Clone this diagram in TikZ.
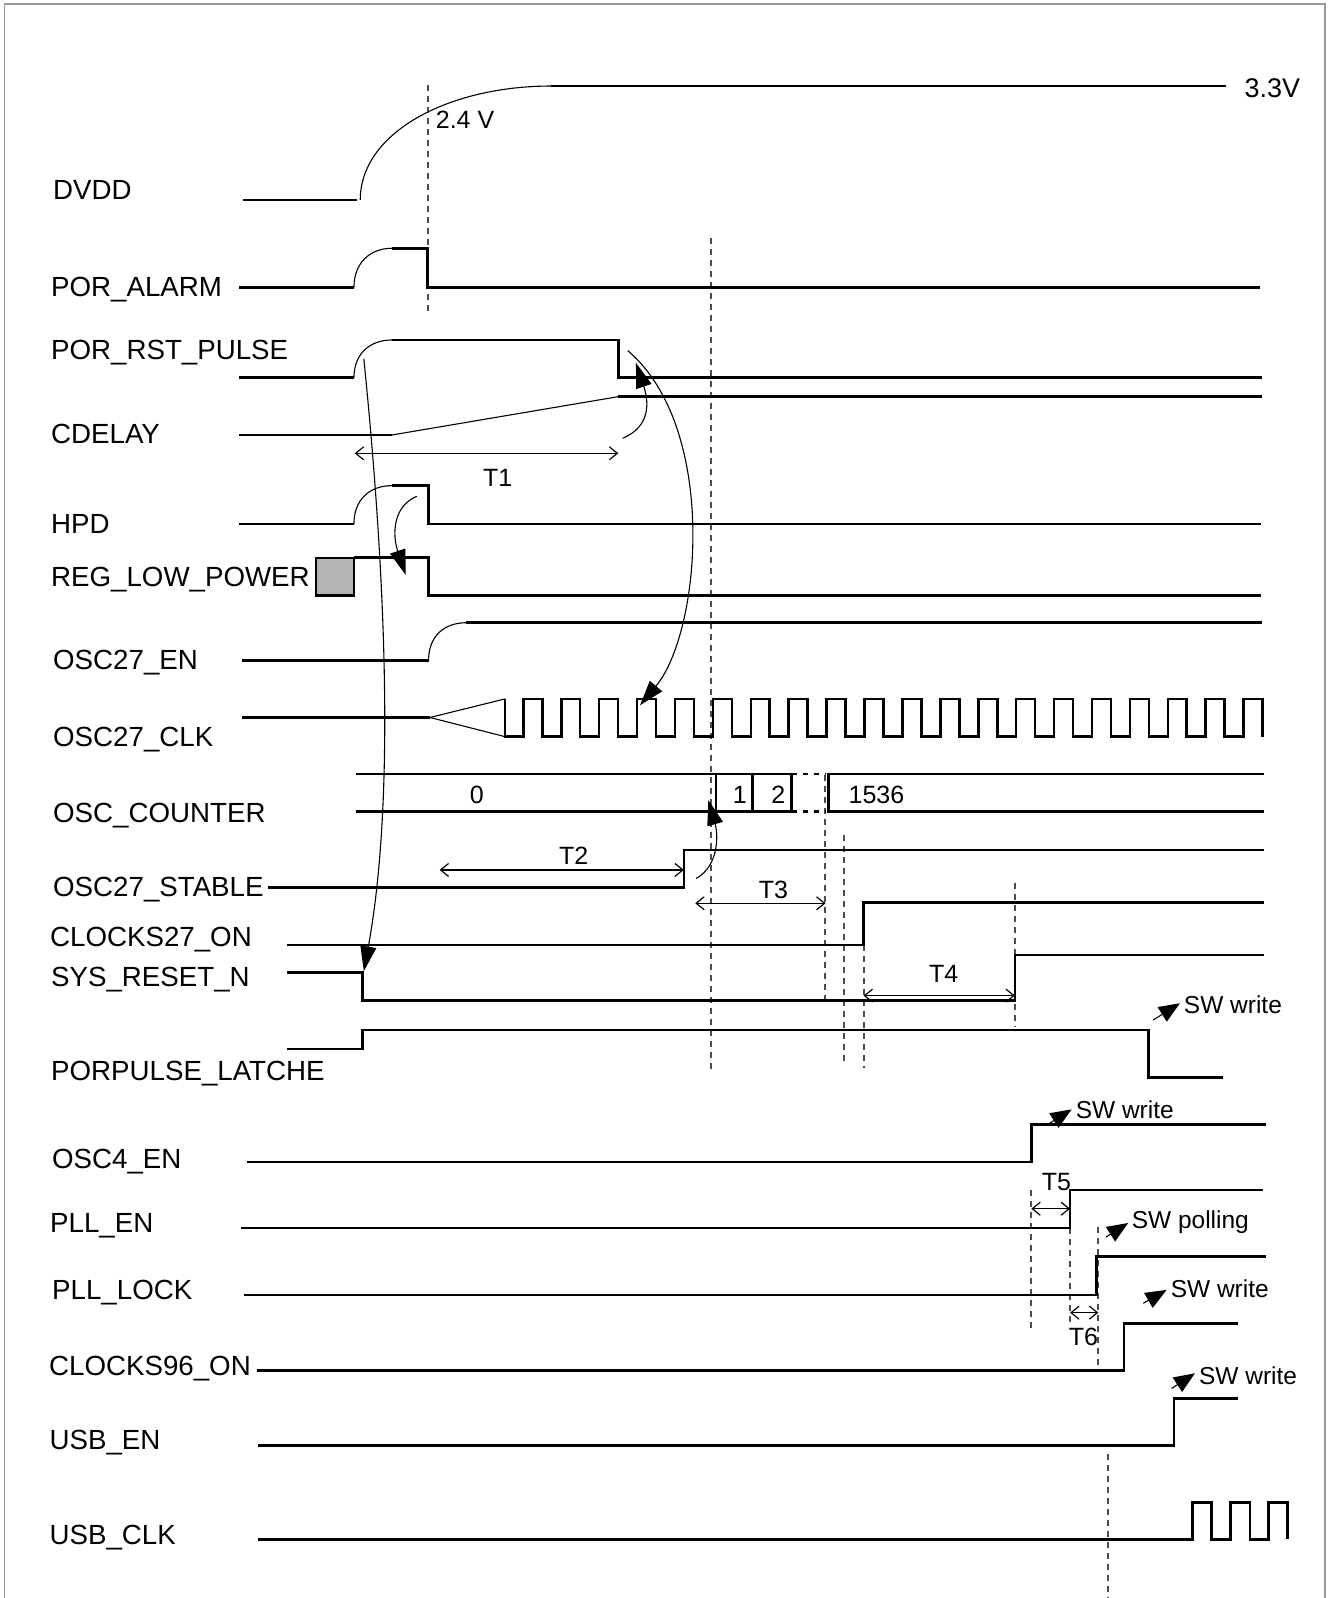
\documentclass[tikz,border=0pt]{standalone}
\usepackage{fontspec}
\setmainfont{Liberation Sans}
\usetikzlibrary{arrows.meta}
\begin{document}
\begin{tikzpicture}[x=1.0192pt,y=-1.0192pt,
 sig/.style={line width=2.6pt,line join=miter},
 thinl/.style={line width=1.1pt},
 dl/.style={draw=black!70,line width=1.8pt,dash pattern=on 6pt off 5pt},
 dotbus/.style={line width=2.6pt,dash pattern=on 5pt off 6pt},
 meas/.style={line width=1.2pt,{Straight Barb[length=8pt,width=13pt]}-{Straight Barb[length=8pt,width=13pt]}},
 cause/.style={line width=1.1pt,-{Triangle[length=25pt,width=16pt]}},
 swarr/.style={line width=1.1pt,-{Triangle[length=21pt,width=17pt]}},
 lab/.style={anchor=base west,inner sep=0pt,font=\fontsize{27.7}{30}\selectfont},
 tlab/.style={anchor=base,inner sep=0pt,font=\fontsize{25}{28}\selectfont},
 swlab/.style={anchor=base west,inner sep=0pt,font=\fontsize{24.5}{28}\selectfont},
]
\useasboundingbox (0,0) rectangle (1304,1568);
\fill[white] (0,0) rectangle (1304,1568);
\draw[black!40,line width=1.5pt] (4.4,1575) -- (4.4,3.9) -- (1300,3.9) -- (1300,1575);

% ---------- labels ----------
\node[lab] (lDVDD) at (52,196) {DVDD};
\node[lab] (lPA) at (50,291) {POR\_ALARM};
\node[lab] (lPRP) at (50,352.6) {POR\_RST\_PULSE};
\node[lab] (lCD) at (50,435.6) {CDELAY};
\node[lab] (lHPD) at (50,523.3) {HPD};
\node[lab] (lREG) at (50,575) {REG\_LOW\_POWER};
\node[lab] (lOEN) at (52,657.4) {OSC27\_EN};
\node[lab] (lOCLK) at (52,732.6) {OSC27\_CLK};
\node[lab] (lOCNT) at (52,806.8) {OSC\_COUNTER};
\node[lab] (lOST) at (52,879.8) {OSC27\_STABLE};
\node[lab] (lC27) at (49,928.8) {CLOCKS27\_ON};
\node[lab] (lSYS) at (50,968) {SYS\_RESET\_N};
\node[lab] (lPPL) at (50,1060.6) {PORPULSE\_LATCHE};
\node[lab] (lO4) at (51,1146.2) {OSC4\_EN};
\node[lab] (lPEN) at (49,1209.3) {PLL\_EN};
\node[lab] (lPLK) at (51,1275.2) {PLL\_LOCK};
\node[lab] (lC96) at (48,1349.3) {CLOCKS96\_ON};
\node[lab] (lUEN) at (48.5,1422.4) {USB\_EN};
\node[lab] (lUCLK) at (48.5,1515.7) {USB\_CLK};

% ---------- dashed markers ----------
\draw[dl] (419.6,83) -- (419.6,307.5);
\draw[dl] (697.3,234) -- (697.3,1052);
\draw[dl] (809.5,760) -- (809.5,982);
\draw[dl] (828,819) -- (828,1043);
\draw[dl] (847.4,927) -- (847.4,1048);
\draw[dl] (995.8,866) -- (995.8,1007);
\draw[dl] (1012,1168) -- (1012,1308);
\draw[dl] (1050,1205) -- (1050,1301);
\draw[dl] (1077.7,1203.5) -- (1077.7,1344);
\draw[dl] (1086.8,1426.4) -- (1086.8,1568);

% ---------- DVDD ----------
\draw[sig] (238.7,196.2) -- (350.4,196.2);
\draw[thinl] (353.5,196.2) .. controls (353.5,130) and (440,84.4) .. (541,84.4);
\draw[sig] (541,84.4) -- (1202.5,84.4);
\node[anchor=base west,inner sep=0pt,font=\fontsize{27}{30}\selectfont] (v33) at (1221,95.5) {3.3V};
\node[anchor=base west,inner sep=0pt,font=\fontsize{25}{28}\selectfont] (v24) at (427.5,125.9) {2.4 V};

% ---------- POR_ALARM ----------
\draw[sig] (234.3,282) -- (347.3,282);
\draw[thinl] (347.3,282) .. controls (347.3,258) and (363,243.6) .. (384.6,243.6);
\draw[sig] (384.6,243.6) -- (419.6,243.6) -- (419.6,282) -- (1236.8,282);

% ---------- POR_RST_PULSE ----------
\draw[sig] (234.3,370.5) -- (347.3,370.5);
\draw[thinl] (347.3,370.5) .. controls (347.3,347) and (363,333.6) .. (384.6,333.6);
\draw[sig] (384.6,333.6) -- (606.7,333.6) -- (606.7,370.5) -- (1238,370.5);

% ---------- CDELAY ----------
\draw[sig] (234.3,426.8) -- (384.6,426.8);
\draw[thinl] (384.6,426.8) -- (606.7,389.2);
\draw[sig] (606.7,389.2) -- (1238,389.2);
\draw[meas] (348,444.8) -- (606.7,444.8);
\node[tlab] (t1) at (488.4,476.9) {T1};

% ---------- HPD ----------
\draw[sig] (234.3,514) -- (347.3,514);
\draw[thinl] (347.3,514) .. controls (347.3,490) and (363,476.5) .. (384.6,476.5);
\draw[sig] (384.6,476.5) -- (420.5,476.5) -- (420.5,514) -- (1237,514);

% ---------- REG_LOW_POWER ----------
\draw[fill={rgb,255:red,179;green,179;blue,179},line width=2.2pt] (310,547.2) rectangle (347.5,584.4);
\draw[sig] (347.5,547.2) -- (420.5,547.2) -- (420.5,584.4) -- (1237,584.4);

% ---------- OSC27_EN ----------
\draw[sig] (237.4,648.2) -- (420.5,648.2);
\draw[thinl] (420.5,648.2) .. controls (420.5,624) and (436,611) .. (457.7,611);
\draw[sig] (457.7,611) -- (1238,611);

% ---------- OSC27_CLK ----------
\draw[sig] (237.4,704) -- (421.9,704);
\draw[thinl] (421.9,704) -- (495.5,685.8);
\draw[thinl] (421.9,704) -- (495.5,722.8);
\draw[sig] (495.5,685.8) -- (495.5,722.8)
  foreach \k in {0,...,19} { -- ({513.5+37.2*\k},722.8) -- ({513.5+37.2*\k},685.8)
  -- ({532.1+37.2*\k},685.8) -- ({532.1+37.2*\k},722.8) };

% ---------- OSC_COUNTER ----------
\draw[sig] (349.1,759.4) -- (776.8,759.4);
\draw[sig] (349.1,796.4) -- (776.8,796.4);
\draw[sig] (702.5,759.4) -- (702.5,796.4);
\draw[sig] (738.5,759.4) -- (738.5,796.4);
\draw[sig] (776.8,759.4) -- (776.8,796.4);
\draw[dotbus] (776.8,759.4) -- (809.5,759.4);
\draw[dotbus] (776.8,796.4) -- (809.5,796.4);
\draw[sig] (1240,759.4) -- (812.7,759.4) -- (812.7,796.4) -- (1240,796.4);
\node[tlab] (c0) at (467.8,788.8) {0};
\node[tlab] (c1) at (726,788.8) {1};
\node[tlab] (c2) at (763.6,788.8) {2};
\node[anchor=base west,inner sep=0pt,font=\fontsize{25}{28}\selectfont] (c1536) at (832.5,788.8) {1536};

% ---------- OSC27_STABLE ----------
\draw[sig] (262.8,871) -- (671,871) -- (671,834) -- (1240,834);
\draw[meas] (431.4,853.6) -- (671,853.6);
\node[tlab] (t2) at (562.9,848) {T2};
\draw[meas] (682.2,886.3) -- (810,886.3);
\node[tlab] (t3) at (759,881.4) {T3};

% ---------- CLOCKS27_ON ----------
\draw[sig] (281.6,927.2) -- (847.4,927.2) -- (847.4,885.7) -- (1240,885.7);

% ---------- SYS_RESET_N ----------
\draw[sig] (281.6,954.3) -- (355.7,954.3) -- (355.7,981.8) -- (995.8,981.8) -- (995.8,937) -- (1240,937);
\draw[meas] (847.4,976.9) -- (995.8,976.9);
\node[tlab] (t4) at (926,964.2) {T4};

% ---------- PORPULSE_LATCHE ----------
\draw[sig] (281.6,1029.2) -- (355.7,1029.2) -- (355.7,1010.6) -- (1127.2,1010.6) -- (1127.2,1057.3) -- (1200.3,1057.3);
\coordinate (sw1a) at (1131.6,1000.8);
\coordinate (sw1b) at (1157.8,984.4);
\draw[swarr] (sw1a) -- (sw1b);
\node[swlab] (sw1) at (1161.5,994.2) {SW write};

% ---------- OSC4_EN ----------
\draw[sig] (242.2,1140) -- (1012,1140) -- (1012,1103.3) -- (1242,1103.3);
\coordinate (sw2a) at (1028.6,1103);
\coordinate (sw2b) at (1051.5,1088.5);
\draw[swarr] (sw2a) -- (sw2b);
\node[swlab] (sw2) at (1055.4,1097.8) {SW write};

% ---------- PLL_EN ----------
\draw[sig] (236.5,1204.8) -- (1050,1204.8) -- (1050,1167.6) -- (1238.9,1167.6);
\draw[meas] (1012,1186) -- (1050,1186);
\node[tlab] (t5) at (1036.7,1168) {T5};

% ---------- PLL_LOCK ----------
\draw[sig] (239.6,1270.5) -- (1076,1270.5) -- (1076,1233) -- (1242,1233);
\coordinate (sw3a) at (1085,1214);
\coordinate (sw3b) at (1107,1200);
\draw[swarr] (sw3a) -- (sw3b);
\node[swlab] (sw3) at (1110.3,1205.2) {SW polling};
\draw[meas] (1050,1288) -- (1077.7,1288);
\node[tlab] (t6) at (1063,1320.7) {T6};

% ---------- CLOCKS96_ON ----------
\draw[sig] (251.9,1344.8) -- (1102.8,1344.8) -- (1102.8,1298.4) -- (1214.3,1298.4);
\coordinate (sw4a) at (1121.8,1278.8);
\coordinate (sw4b) at (1144.7,1265.7);
\draw[swarr] (sw4a) -- (sw4b);
\node[swlab] (sw4) at (1148.6,1272.9) {SW write};

% ---------- USB_EN ----------
\draw[sig] (252.7,1418.6) -- (1151.9,1418.6) -- (1151.9,1372.3) -- (1214.3,1372.3);
\coordinate (sw5a) at (1149.6,1362.4);
\coordinate (sw5b) at (1172.5,1347.5);
\draw[swarr] (sw5a) -- (sw5b);
\node[swlab] (sw5) at (1176.4,1358.9) {SW write};

% ---------- USB_CLK ----------
\draw[sig] (252.7,1510.5) -- (1170,1510.5) -- (1170,1474.5) -- (1188.8,1474.5) -- (1188.8,1510.5)
  -- (1207.5,1510.5) -- (1207.5,1474.5) -- (1226.4,1474.5) -- (1226.4,1510.5)
  -- (1244.4,1510.5) -- (1244.4,1474.5) -- (1263.4,1474.5) -- (1263.4,1510.5);

% ---------- causal arrows ----------
\coordinate (prpRise) at (357,352);
\coordinate (sysRise) at (357,953);
\draw[cause] (prpRise) .. controls (382,600) and (385,800) .. (sysRise);
\coordinate (prpFall) at (616,344);
\coordinate (clkEdge) at (628,692);
\draw[cause] (prpFall) .. controls (705,420) and (688,620) .. (clkEdge);
\coordinate (cdHigh) at (611,430);
\coordinate (prpLow) at (624,356);
\draw[cause] (cdHigh) .. controls (640,418) and (636,392) .. (prpLow);
\coordinate (hpdFall) at (409,487);
\coordinate (regHigh) at (398,564);
\draw[cause] (hpdFall) .. controls (385,497) and (385,525) .. (regHigh);
\coordinate (stRise) at (683,862);
\coordinate (cntOne) at (695,785);
\draw[cause] (stRise) .. controls (705,850) and (705,820) .. (cntOne);
\end{tikzpicture}
\end{document}
